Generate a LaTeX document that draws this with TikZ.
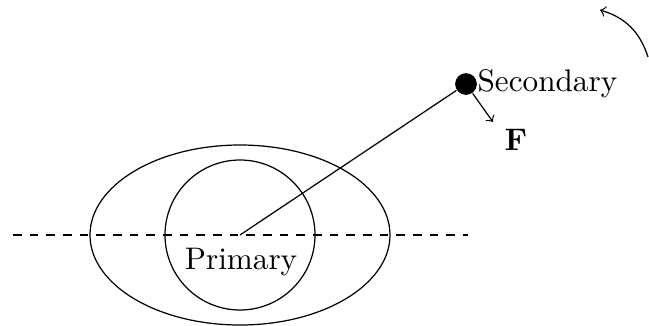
\documentclass[tikz,border=0pt]{standalone}
\begin{document}
\begin{tikzpicture}[x=0.327pt,y=-0.327pt,
  dot/.style={circle,fill=black,inner sep=0pt,minimum size=7.1pt},
  lbl/.style={inner sep=0pt,scale=1.02},
  guide/.style={dash pattern=on 2.85pt off 2.6pt}]
\useasboundingbox (0,0) rectangle (649,325);
\coordinate (P) at (240,235);
\draw (P) ellipse [x radius=150, y radius=90];
\draw (P) circle [radius=75];
\coordinate (dl) at (13,235);
\coordinate (dr) at (468,235);
\draw[guide] (dl) -- (dr);
\node[lbl] (prim) at (241,262) {Primary};
\node[dot] (S) at (466,84) {};
\draw (P) -- (S);
\node[lbl,anchor=west] (sec) at (477,84) {Secondary};
\coordinate (Fend) at (493,122);
\draw[->] (S) -- (Fend);
\node[lbl] (F) at (516,140) {$\mathbf{F}$};
\coordinate (a1) at (648,57);
\coordinate (a2) at (600,10);
\draw[->] (a1) to[bend right=28] (a2);
\end{tikzpicture}
\end{document}
